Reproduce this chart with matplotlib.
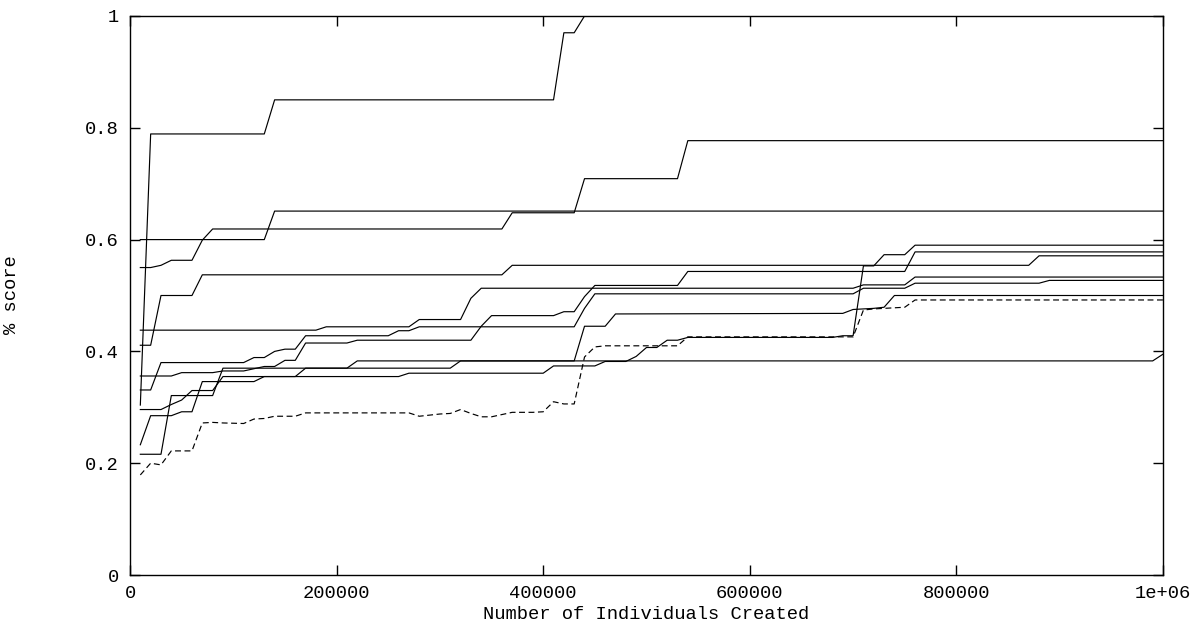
import numpy as np
import matplotlib
matplotlib.use("Agg")
import matplotlib.pyplot as plt

# generation index in units of 10000 individuals, best score at that point
run_a_gen = [1, 2, 13, 14, 41, 42, 43, 44, 100]
run_a_score = [0.304, 0.789, 0.789, 0.850, 0.850, 0.970, 0.970, 1.0, 1.0]

run_b_gen = [1, 2, 3, 4, 6, 7, 8, 36, 37, 43, 44, 53, 54, 100]
run_b_score = [0.550, 0.550, 0.554, 0.563, 0.563, 0.599, 0.619, 0.619, 0.648, 0.648,
               0.709, 0.709, 0.777, 0.777]

run_c_gen = [1, 13, 14, 100]
run_c_score = [0.600, 0.600, 0.651, 0.651]

run_d_gen = [1, 2, 3, 6, 7, 36, 37, 87, 88, 100]
run_d_score = [0.411, 0.411, 0.500, 0.500, 0.537, 0.537, 0.554, 0.554, 0.571, 0.571]

run_e_gen = [1, 18, 19, 27, 28, 32, 33, 34, 70, 71, 75, 76, 100]
run_e_score = [0.438, 0.438, 0.444, 0.444, 0.457, 0.457, 0.495, 0.513, 0.513, 0.519,
               0.519, 0.533, 0.533]

run_f_gen = [1, 2, 3, 11, 12, 13, 14, 15, 16, 17, 25, 26, 27, 28, 43, 44, 45, 70, 71,
             75, 76, 88, 89, 100]
run_f_score = [0.331, 0.331, 0.380, 0.380, 0.389, 0.389, 0.400, 0.404, 0.404, 0.428,
               0.428, 0.437, 0.437, 0.444, 0.444, 0.477, 0.503, 0.503, 0.513, 0.513,
               0.522, 0.522, 0.527, 0.527]

run_g_gen = [1, 4, 5, 8, 9, 11, 12, 13, 14, 15, 16, 17, 21, 22, 33, 34, 35, 41, 42, 43,
             44, 45, 53, 54, 75, 76, 100]
run_g_score = [0.356, 0.356, 0.362, 0.362, 0.365, 0.365, 0.369, 0.373, 0.373, 0.384,
               0.384, 0.415, 0.415, 0.420, 0.420, 0.445, 0.464, 0.464, 0.471, 0.471,
               0.498, 0.518, 0.518, 0.543, 0.543, 0.578, 0.578]

run_h_gen = [1, 3, 4, 5, 6, 8, 9, 26, 27, 40, 41, 45, 46, 48, 49, 50, 51, 52, 53, 54,
             68, 69, 70, 71, 72, 73, 75, 76, 100]
run_h_score = [0.296, 0.296, 0.305, 0.313, 0.330, 0.330, 0.355, 0.355, 0.361, 0.361,
               0.374, 0.374, 0.382, 0.382, 0.391, 0.407, 0.407, 0.420, 0.420, 0.425,
               0.425, 0.428, 0.428, 0.553, 0.553, 0.573, 0.573, 0.590, 0.590]

run_i_gen = [1, 2, 4, 5, 6, 7, 12, 13, 16, 17, 21, 22, 99, 100]
run_i_score = [0.233, 0.285, 0.285, 0.292, 0.292, 0.346, 0.346, 0.355, 0.355, 0.370,
               0.370, 0.383, 0.383, 0.395]

run_j_gen = [1, 3, 4, 8, 9, 31, 32, 43, 44, 46, 47, 69, 70, 72, 73, 74, 100]
run_j_score = [0.216, 0.216, 0.321, 0.321, 0.370, 0.370, 0.383, 0.383, 0.445, 0.445,
               0.467, 0.468, 0.475, 0.477, 0.479, 0.500, 0.500]

# average over runs (dashed)
avg_gen = [1, 2, 3, 4, 6, 7, 8, 9, 11, 12, 13, 14, 16, 17, 27, 28, 29, 30, 31, 32, 33,
           34, 35, 36, 37, 39, 40, 41, 42, 43, 44, 45, 46, 53, 54, 70, 71, 72, 73, 74,
           75, 76, 100]
avg_score = [0.179, 0.200, 0.197, 0.222, 0.222, 0.272, 0.273, 0.272, 0.271, 0.279,
             0.280, 0.284, 0.284, 0.290, 0.290, 0.284, 0.286, 0.288, 0.289, 0.296,
             0.289, 0.283, 0.283, 0.287, 0.291, 0.291, 0.292, 0.310, 0.306, 0.306,
             0.390, 0.408, 0.410, 0.410, 0.426, 0.426, 0.474, 0.476, 0.477, 0.478,
             0.479, 0.492, 0.492]

runs = [
    (run_a_gen, run_a_score), (run_b_gen, run_b_score), (run_c_gen, run_c_score),
    (run_d_gen, run_d_score), (run_e_gen, run_e_score), (run_f_gen, run_f_score),
    (run_g_gen, run_g_score), (run_h_gen, run_h_score), (run_i_gen, run_i_score),
    (run_j_gen, run_j_score),
]
GEN_STEP = 10000

x_ticks = [0, 200000, 400000, 600000, 800000, 1000000]
x_tick_labels = ["0", "200000", "400000", "600000", "800000", "1e+06"]
y_ticks = [0, 0.2, 0.4, 0.6, 0.8, 1.0]
y_tick_labels = ["0", "0.2", "0.4", "0.6", "0.8", "1"]

FONT = "Liberation Mono"
FS = 13.5
plt.rcParams["font.family"] = FONT

fig = plt.figure(figsize=(12.04, 6.25), dpi=100)
ax = fig.add_axes([130 / 1204, 50 / 625, 1033 / 1204, 559 / 625])

for gen, score in runs:
    ax.plot(np.array(gen) * GEN_STEP, score, color="black", lw=0.85)
ln, = ax.plot(np.array(avg_gen) * GEN_STEP, avg_score, color="black", lw=0.85)
ln.set_dashes([5, 3])

ax.set_xlim(0, 1000000)
ax.set_ylim(0, 1)
ax.set_xticks(x_ticks)
ax.set_xticklabels(x_tick_labels)
ax.set_yticks(y_ticks)
ax.set_yticklabels(y_tick_labels)
ax.tick_params(direction="in", length=7, width=1, top=True, right=True,
               labelsize=FS, pad=8)
ax.tick_params(axis="x", pad=7)
for s in ax.spines.values():
    s.set_linewidth(1.0)

ax.set_xlabel("Number of Individuals Created", fontsize=FS, labelpad=3)
fig.text(11 / 1204, 1 - 295 / 625, "% score", rotation=90, fontsize=FS,
         ha="center", va="center")

fig.savefig("out.png", dpi=100)
